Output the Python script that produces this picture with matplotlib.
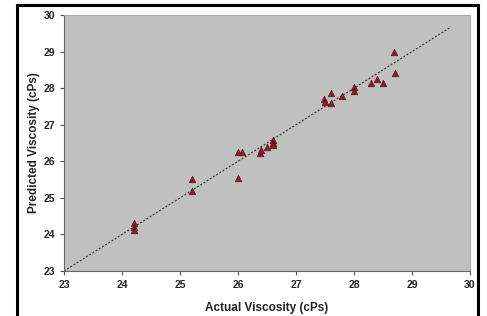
import numpy as np
import matplotlib
matplotlib.use("Agg")
import matplotlib.pyplot as plt
from matplotlib.patches import Rectangle

plt.rcParams['font.family'] = ['Liberation Sans', 'DejaVu Sans']

# 読み取ったデータ
actual = [24.2, 24.2, 24.2, 25.2, 25.2, 26.0, 26.07, 26.0, 26.38, 26.4,
          26.5, 26.6, 26.6, 26.6, 27.48, 27.6, 27.5, 27.6, 27.8, 28.0,
          28.0, 28.29, 28.4, 28.5, 28.69, 28.71]
predicted = [24.3, 24.2, 24.12, 25.52, 25.19, 26.26, 26.26, 25.54, 26.22, 26.3,
             26.4, 26.58, 26.5, 26.45, 27.7, 27.88, 27.62, 27.6, 27.79, 28.03,
             27.92, 28.14, 28.24, 28.14, 28.99, 28.42]
fit_x = [23.0, 29.65]
fit_y = [23.0, 29.65]
ticks = [23, 24, 25, 26, 27, 28, 29, 30]

fig = plt.figure(figsize=(4.87, 3.16), dpi=100)
fig.patch.set_facecolor("white")

# 外枠
fig.patches.append(Rectangle((17 / 487, -0.05), (478 - 17) / 487, 1 - 5 / 316 + 0.05,
                             transform=fig.transFigure, fill=False,
                             edgecolor="black", linewidth=2.2))

ax = fig.add_axes([64 / 487, 1 - 271 / 316, (470 - 64) / 487, (271 - 15) / 316])
ax.set_facecolor("#c0c0c0")

ax.plot(fit_x, fit_y, color="#333333", linestyle=(0, (1.5, 1.5)), linewidth=0.9)
ax.scatter(actual, predicted, marker="^", s=22, color="#8a1f2e",
           edgecolors="#5a0f1a", linewidths=0.5, zorder=3)

ax.set_xlim(23, 30)
ax.set_ylim(23, 30)
ax.set_xticks(ticks)
ax.set_yticks(ticks)
ax.tick_params(labelsize=7.5, length=3, width=0.8, color="#555555", labelcolor="#222222")
for lab in ax.get_xticklabels() + ax.get_yticklabels():
    lab.set_fontweight("bold")

for side in ["top", "right"]:
    ax.spines[side].set_color("#a8a8a8")
for side in ["left", "bottom"]:
    ax.spines[side].set_color("#666666")

ax.set_xlabel("Actual Viscosity (cPs)", fontsize=8.5, fontweight="bold", color="#222222")
ax.set_ylabel("Predicted Viscosity (cPs)", fontsize=8.5, fontweight="bold", color="#222222")
ax.xaxis.set_label_coords(0.5, -0.12)
ax.yaxis.set_label_coords(-0.06, 0.5)

fig.savefig("out.png", dpi=100)
